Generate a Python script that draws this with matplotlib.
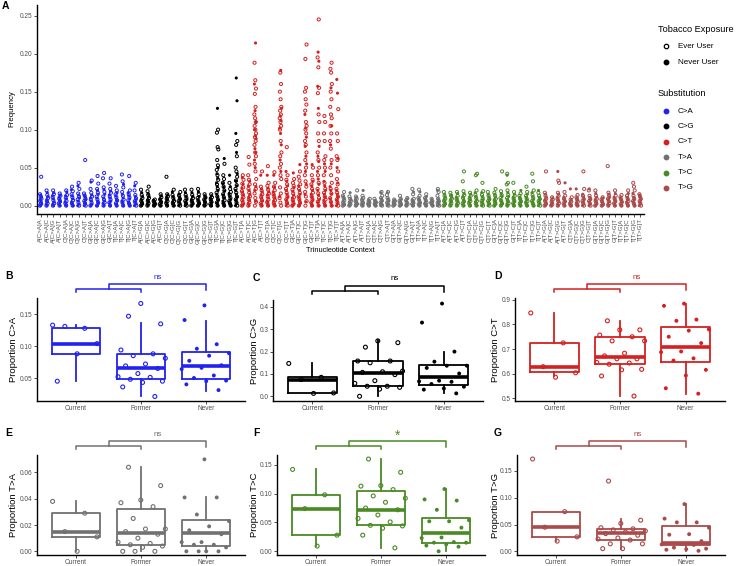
import numpy as np
import matplotlib
matplotlib.use("Agg")
import matplotlib.pyplot as plt
from matplotlib.lines import Line2D
from matplotlib import transforms
from matplotlib.ticker import FormatStrFormatter

plt.rcParams['font.family'] = ['Liberation Sans', 'DejaVu Sans']

W, H = 740, 566
subs = ["C>A", "C>G", "C>T", "T>A", "T>C", "T>G"]
sub_colors = ["#2222EE", "#000000", "#D42020", "#717171", "#4A8A25", "#AA4A4A"]
bases = ["A", "C", "G", "T"]
groups = ["Current", "Former", "Never"]

# panel A: frequency per context, in thousandths, "ever users | never users"
ca_freq = [
    "0 3 6 9 12 15 38 | 0 2 5 8 11 14",
    "0 3 6 10 14 20 | 0 2 5 8 12 17",
    "0 3 7 11 15 20 | 0 2 5 9 13 17",
    "0 3 6 9 13 16 | 0 2 5 8 11 14",
    "0 3 6 10 14 20 | 0 2 5 9 13 18",
    "0 3 7 11 15 19 25 | 0 2 5 9 13 21",
    "0 4 8 12 16 22 30 | 0 2 6 10 14 26",
    "0 3 6 9 13 16 60 | 0 2 5 8 11 14",
    "0 4 8 12 17 22 33 | 0 2 6 10 14 31",
    "0 4 8 12 17 22 29 39 | 0 3 6 10 15 20",
    "0 4 8 12 18 24 36 43 | 0 3 6 10 15 21",
    "0 4 8 12 17 22 29 36 | 0 3 6 10 14 19",
    "0 3 7 11 15 20 26 | 0 2 6 9 13 17",
    "0 4 8 13 18 24 32 41 | 0 3 6 10 15 28",
    "0 3 7 11 15 20 39 | 0 2 5 9 13 17",
    "0 3 6 10 14 20 30 | 0 2 5 8 12 26",
]
cg_freq = [
    "0 3 6 10 14 21 | 0 2 5 8 12 17",
    "0 3 6 10 14 19 25 | 0 2 5 8 12 16",
    "0 2 4 6 8 | 0 1 3 5 7",
    "0 2 5 8 11 15 | 0 1 4 6 9 13",
    "0 3 6 9 12 15 38 | 0 2 5 8 11 14",
    "0 3 6 10 14 21 | 0 2 5 8 12 18",
    "0 3 6 9 13 18 | 0 2 5 8 11 15",
    "0 3 6 10 14 21 | 0 2 5 8 12 17",
    "0 3 6 10 14 21 | 0 2 5 8 12 17",
    "0 3 6 10 15 22 | 0 2 5 8 12 18",
    "0 2 5 8 11 15 | 0 1 4 7 10 13",
    "0 2 5 8 11 15 | 0 1 4 7 10 13",
    "0 4 8 12 17 22 28 34 40 47 53 60 74 77 96 100 | 0 3 7 11 15 20 25 30 36 42 50 128",
    "0 3 7 11 15 20 25 30 35 40 55 | 0 3 6 10 14 19 24 29 62",
    "0 3 6 10 14 18 22 30 | 0 2 5 8 12 16 25 40",
    "0 4 8 12 17 22 27 33 38 45 50 65 80 85 | 0 3 7 11 15 20 26 32 42 70 95 138 168",
]
ct_freq = [
    "0 3 7 11 15 19 24 29 34 40 | 0 2 6 10 14 18 23 28 37",
    "0 4 8 12 17 22 28 34 40 54 64 | 0 3 7 11 15 20 26 32",
    "0 5 10 16 22 28 35 45 55 65 70 80 85 90 95 100 105 110 115 120 130 147 154 165 188 | 6 20 25 50 60 70 75 88 92 100 110 125 160 214",
    "0 3 7 11 15 20 25 45 | 0 2 6 10 14 18 22 40",
    "0 4 8 12 16 21 26 30 52 | 0 3 6 10 14 18 23 40",
    "0 3 7 11 15 20 25 30 44 | 0 2 6 10 14 18 24 40",
    "0 4 10 16 24 35 40 50 55 65 70 85 100 105 110 115 120 125 130 140 150 160 175 | 12 45 60 80 95 102 112 118 128 178",
    "0 4 8 12 17 22 28 34 40 77 | 0 3 7 11 15 20 26 32 45",
    "0 3 7 11 16 21 26 30 35 | 0 2 6 10 14 19 24 43",
    "0 4 8 12 17 22 28 33 38 45 | 0 3 7 11 15 20 26 54",
    "0 6 12 18 25 32 40 50 60 70 80 85 95 100 105 110 125 133 140 150 155 193 212 | 5 15 28 45 55 65 78 90 102 120",
    "0 4 8 12 17 22 28 34 40 50 | 0 3 7 11 15 20 26 32 54",
    "0 5 10 16 22 30 40 50 60 70 85 95 110 120 148 155 182 195 245 | 0 4 8 14 20 28 35 45 58 65 78 128 157 190 202",
    "0 4 8 12 17 22 30 40 50 60 65 85 95 110 118 | 0 3 7 11 15 20 26 32 45 55",
    "0 5 10 16 22 30 40 50 60 75 85 95 105 115 120 130 140 150 160 175 180 188 | 0 4 9 15 20 25 55 80 105 155",
    "0 4 8 12 17 22 28 35 45 60 65 85 95 127 | 0 3 7 11 15 20 30 50 62 148 166",
]
ta_freq = [
    "0 2 4 7 10 13 18 | 0 1 3 6 9 12",
    "0 2 4 6 9 12 | 0 1 3 5 8 17",
    "0 2 4 6 9 12 20 | 0 1 3 5 8 11",
    "0 2 4 7 10 13 | 0 1 3 6 9 20",
    "0 2 4 6 9 | 0 1 3 5 8",
    "0 2 4 6 9 | 0 1 3 5 7",
    "0 2 4 7 10 13 18 | 0 1 3 6 9 17",
    "0 2 4 7 10 14 18 | 0 1 3 6 9 17",
    "0 2 4 6 8 | 0 1 3 5 7",
    "0 2 4 6 9 13 | 0 1 3 5 8",
    "0 2 4 7 10 | 0 1 3 6 9",
    "0 2 4 6 9 15 22 | 0 1 3 5 8 18",
    "0 2 4 7 10 13 21 | 0 1 3 6 9 18",
    "0 2 4 7 10 15 | 0 1 3 6 9 12",
    "0 2 4 6 9 | 0 1 3 5 8",
    "0 2 4 6 9 13 18 22 | 0 1 3 5 8 20",
]
tc_freq = [
    "0 3 6 9 13 18 | 0 2 5 8 11 15",
    "0 3 6 9 13 17 | 0 2 5 8 11 14",
    "0 3 6 9 13 18 | 0 2 5 8 11 16",
    "0 3 6 10 14 19 32 45 | 0 2 5 8 12 16",
    "0 3 6 9 13 17 | 0 2 5 8 11 15",
    "0 3 6 10 14 20 40 42 | 0 2 5 8 12 17",
    "0 3 6 10 14 19 30 | 0 2 5 8 12 17",
    "0 3 6 9 13 18 | 0 2 5 8 11 15",
    "0 3 6 9 13 17 22 | 0 2 5 8 11 15",
    "0 3 6 10 14 19 45 | 0 2 5 8 12 16",
    "0 3 6 10 14 20 28 30 42 | 0 2 5 8 12 17 40",
    "0 3 6 9 13 18 30 | 0 2 5 8 11 15",
    "0 3 6 9 13 16 | 0 2 5 8 11 20",
    "0 3 6 9 13 18 25 | 0 2 5 8 11 15",
    "0 3 6 10 14 20 32 42 | 0 2 5 8 12 17",
    "0 3 6 9 13 17 | 0 2 5 8 11 20",
]
tg_freq = [
    "0 3 6 9 13 17 45 | 0 2 5 8 11 15",
    "0 2 5 8 11 | 0 1 4 7 10",
    "0 3 6 9 13 17 30 33 | 0 2 5 8 11 15 45",
    "0 3 6 9 13 18 | 0 2 5 8 11 30",
    "0 2 5 8 11 | 0 1 4 7 22",
    "0 2 5 8 11 14 | 0 1 4 7 10 22",
    "0 3 6 9 13 22 45 | 0 2 5 8 11 15",
    "0 3 6 9 13 20 | 0 2 5 8 11 22",
    "0 3 6 9 13 20 | 0 2 5 8 11 16",
    "0 2 5 8 11 | 0 1 4 7 10",
    "0 3 6 9 13 17 52 | 0 2 5 8 11 15",
    "0 3 6 9 13 20 | 0 2 5 8 11 16",
    "0 2 5 8 11 14 | 0 1 4 7 10",
    "0 3 6 9 13 20 | 0 2 5 8 11 16",
    "0 3 6 9 13 20 25 30 | 0 2 5 8 11 16",
    "0 3 6 9 12 15 | 0 2 5 8 11 14",
]
freq_all = [ca_freq, cg_freq, ct_freq, ta_freq, tc_freq, tg_freq]

# panels B-G: proportions per patient, plus box stats (whislo, q1, med, q3, whishi)
ca_current = [0.133, 0.128, 0.131, 0.104, 0.088, 0.045]
ca_former = [0.147, 0.135, 0.167, 0.094, 0.088, 0.085, 0.081, 0.072, 0.069, 0.065, 0.057, 0.052, 0.051, 0.048, 0.045, 0.043, 0.036, 0.021]
ca_never = [0.164, 0.141, 0.103, 0.096, 0.089, 0.085, 0.077, 0.070, 0.066, 0.064, 0.054, 0.050, 0.046, 0.045, 0.040, 0.031]
ca_box = [[0.045, 0.088, 0.104, 0.129, 0.133], [0.022, 0.048, 0.065, 0.087, 0.137], [0.030, 0.049, 0.069, 0.091, 0.140]]

cg_current = [0.147, 0.085, 0.075, 0.015, 0.013]
cg_former = [0.22, 0.24, 0.248, 0.158, 0.158, 0.15, 0.113, 0.11, 0.107, 0.097, 0.07, 0.058, 0.045, 0.045, 0.04, 0.032, 0.0]
cg_never = [0.415, 0.33, 0.2, 0.155, 0.137, 0.137, 0.127, 0.102, 0.07, 0.067, 0.065, 0.055, 0.043, 0.035, 0.03, 0.013]
cg_box = [[0.013, 0.015, 0.072, 0.088, 0.147], [0.0, 0.048, 0.105, 0.157, 0.25], [0.013, 0.05, 0.087, 0.142, 0.20]]

ct_current = [0.847, 0.725, 0.628, 0.603, 0.585]
ct_former = [0.815, 0.778, 0.778, 0.757, 0.75, 0.733, 0.733, 0.683, 0.672, 0.66, 0.66, 0.645, 0.643, 0.638, 0.617, 0.615, 0.59, 0.508]
ct_never = [0.885, 0.876, 0.82, 0.815, 0.78, 0.775, 0.75, 0.724, 0.69, 0.687, 0.662, 0.653, 0.615, 0.592, 0.54, 0.518]
ct_box = [[0.59, 0.605, 0.628, 0.725, 0.845], [0.508, 0.64, 0.668, 0.748, 0.815], [0.518, 0.645, 0.707, 0.79, 0.885]]

ta_current = [0.038, 0.029, 0.015, 0.011, 0.0]
ta_former = [0.064, 0.05, 0.039, 0.037, 0.034, 0.025, 0.017, 0.017, 0.015, 0.013, 0.01, 0.007, 0.006, 0.005, 0.004, 0.003, 0.0, 0.0, 0.0]
ta_never = [0.07, 0.041, 0.041, 0.028, 0.023, 0.019, 0.016, 0.013, 0.007, 0.007, 0.005, 0.005, 0.003, 0.0, 0.0, 0.0, 0.0]
ta_box = [[0.0, 0.011, 0.015, 0.029, 0.038], [0.0, 0.005, 0.014, 0.032, 0.064], [0.0, 0.004, 0.014, 0.024, 0.041]]

tc_current = [0.142, 0.098, 0.074, 0.028, 0.009]
tc_former = [0.16, 0.137, 0.114, 0.113, 0.107, 0.096, 0.092, 0.085, 0.075, 0.072, 0.063, 0.057, 0.051, 0.045, 0.044, 0.04, 0.028, 0.006]
tc_never = [0.108, 0.09, 0.088, 0.072, 0.054, 0.052, 0.052, 0.041, 0.024, 0.023, 0.016, 0.015, 0.015, 0.012, 0.01, 0.008, 0.0]
tc_box = [[0.01, 0.028, 0.073, 0.098, 0.142], [0.006, 0.046, 0.072, 0.105, 0.16], [0.0, 0.015, 0.032, 0.058, 0.108]]

tg_current = [0.172, 0.074, 0.045, 0.027, 0.019]
tg_former = [0.131, 0.058, 0.052, 0.044, 0.042, 0.04, 0.038, 0.036, 0.033, 0.03, 0.025, 0.023, 0.021, 0.014, 0.014, 0.005, 0.005]
tg_never = [0.088, 0.061, 0.054, 0.054, 0.044, 0.032, 0.031, 0.019, 0.014, 0.013, 0.012, 0.007, 0.005, 0.004, 0.003, 0.001]
tg_box = [[0.02, 0.027, 0.045, 0.074, 0.074], [0.005, 0.022, 0.034, 0.041, 0.06], [0.0, 0.011, 0.016, 0.048, 0.088]]

sig_labels = ["ns", "ns", "ns", "ns", "*", "ns"]

TXT = "#4D4D4D"


def jit(n, width, off=0.0):
    # fixed spread pattern for the points (no randomness)
    k = np.arange(n)
    return ((k * 0.618034 + off) % 1.0 - 0.5) * 2 * width


def px_axes(l, t, r, b):
    return fig.add_axes([l / W, 1 - b / H, (r - l) / W, (b - t) / H])


def style(ax):
    for s in ["top", "right"]:
        ax.spines[s].set_visible(False)
    for s in ["left", "bottom"]:
        ax.spines[s].set_linewidth(1.0)
    ax.tick_params(length=2.2, width=0.6, colors="#333333", labelcolor=TXT, pad=1.0)


fig = plt.figure(figsize=(W / 100, H / 100), dpi=100)

# ---- panel A ----
axA = px_axes(37, 5, 644, 214)
style(axA)
labels = []
for i, sub in enumerate(subs):
    for j in range(16):
        pos = i * 16 + j + 1
        labels.append(bases[j // 4] + "[" + sub + "]" + bases[j % 4])
        ev_s, nv_s = freq_all[i][j].split("|")
        ev = np.array(ev_s.split(), float) / 1000
        nv = np.array(nv_s.split(), float) / 1000
        axA.scatter(pos + jit(len(ev), 0.15, 0.13 * j), ev, s=5, facecolors="none",
                    edgecolors=sub_colors[i], linewidths=0.7, zorder=3)
        axA.scatter(pos + jit(len(nv), 0.15, 0.37 + 0.11 * j), nv, s=5, c=sub_colors[i],
                    edgecolors="none", zorder=3)
axA.set_xlim(0.4, 96.6)
axA.set_ylim(-0.011, 0.264)
axA.set_yticks([0, 0.05, 0.10, 0.15, 0.20, 0.25])
axA.yaxis.set_major_formatter(FormatStrFormatter("%.2f"))
axA.set_xticks(np.arange(1, 97))
axA.set_xticklabels(labels, rotation=90, fontsize=4.4)
axA.tick_params(axis="y", labelsize=4.7)
fig.text(12 / W, 1 - 109 / H, "Frequency", fontsize=5.6, rotation=90, ha="center", va="center")
fig.text(340 / W, 1 - 251 / H, "Trinucleotide Context", fontsize=5.3, ha="center", va="center")

# legend
fig.text(658 / W, 1 - 29 / H, "Tobacco Exposure", fontsize=6.6, va="center")
fig.add_artist(Line2D([665.7 / W], [1 - 46 / H], marker="o", ms=3.2, mfc="none", mec="black",
                      mew=0.9, ls="", transform=fig.transFigure))
fig.add_artist(Line2D([665.7 / W], [1 - 62 / H], marker="o", ms=3.2, mfc="black", mec="black",
                      ls="", transform=fig.transFigure))
fig.text(678 / W, 1 - 46 / H, "Ever User", fontsize=5.8, va="center")
fig.text(678 / W, 1 - 62 / H, "Never User", fontsize=5.8, va="center")
fig.text(658 / W, 1 - 94 / H, "Substitution", fontsize=6.6, va="center")
for i, sub in enumerate(subs):
    yy = 1 - (111 + i * 15.4) / H
    fig.add_artist(Line2D([665.7 / W], [yy], marker="o", ms=3.2, mfc=sub_colors[i], mec=sub_colors[i],
                          ls="", transform=fig.transFigure))
    fig.text(678 / W, yy, sub, fontsize=5.8, va="center")

# ---- panels B-G ----
panels = [
    ("B", (37, 298, 245, 401), ca_current, ca_former, ca_never, ca_box, (0.0139, 0.1756), [0.05, 0.10, 0.15], "%.2f"),
    ("C", (273, 300, 483, 401), cg_current, cg_former, cg_never, cg_box, (-0.021, 0.431), [0.0, 0.1, 0.2, 0.3, 0.4], "%.1f"),
    ("D", (515, 298, 725, 401), ct_current, ct_former, ct_never, ct_box, (0.488, 0.908), [0.5, 0.6, 0.7, 0.8, 0.9], "%.1f"),
    ("E", (37, 455, 245, 555), ta_current, ta_former, ta_never, ta_box, (-0.0028, 0.0733), [0.0, 0.02, 0.04, 0.06], "%.2f"),
    ("F", (277, 455, 485, 555), tc_current, tc_former, tc_never, tc_box, (-0.0064, 0.167), [0.0, 0.05, 0.10, 0.15], "%.2f"),
    ("G", (517, 455, 725, 555), tg_current, tg_former, tg_never, tg_box, (-0.0068, 0.1795), [0.0, 0.05, 0.10, 0.15], "%.2f"),
]
letter_x = {"B": 5, "C": 253, "D": 494, "E": 5, "F": 253, "G": 494}
ylab_x = {"B": 13, "C": 255, "D": 495, "E": 13, "F": 255, "G": 495}

for k, (let, (l, t, r, b), cur, form, nev, box, ylim, ticks, fmt) in enumerate(panels):
    c = sub_colors[k]
    ax = px_axes(l, t, r, b)
    style(ax)
    stats = [dict(whislo=s[0], q1=s[1], med=s[2], q3=s[3], whishi=s[4]) for s in box]
    ax.bxp(stats, positions=[1, 2, 3], widths=0.75, showfliers=False, showcaps=False,
           boxprops=dict(color=c, lw=1.3), whiskerprops=dict(color=c, lw=1.3),
           medianprops=dict(color=c, lw=2.6))
    for g, vals in enumerate([cur, form, nev]):
        v = np.array(vals)
        x = g + 1 + jit(len(v), 0.4, 0.21 * g + 0.05)
        if g < 2:
            ax.scatter(x, v, s=8, facecolors="none", edgecolors=c, linewidths=0.8, zorder=4)
        else:
            ax.scatter(x, v, s=8, c=c, edgecolors="none", zorder=4)
    ax.set_xlim(0.4, 3.6)
    ax.set_ylim(*ylim)
    ax.set_yticks(ticks)
    ax.yaxis.set_major_formatter(FormatStrFormatter(fmt))
    ax.set_xticks([1, 2, 3])
    ax.set_xticklabels(groups)
    ax.tick_params(labelsize=4.7)
    fig.text(ylab_x[let] / W, 1 - (t + b) / 2 / H, "Proportion " + subs[k], fontsize=6.8,
             rotation=90, ha="center", va="center")
    # significance bracket above the axes (heights in pixels above the top)
    tr = transforms.blended_transform_factory(ax.transData, ax.transAxes)
    h = b - t
    for xs, ys in [([1, 1, 2, 2], [6.3, 9, 9, 6.3]), ([1.5, 1.5, 3, 3], [9, 14, 14, 8])]:
        ax.add_line(Line2D(xs, [1 + dy / h for dy in ys], color=c, lw=1.1, clip_on=False, transform=tr))
    star = sig_labels[k] == "*"
    ax.text(2.25, 1 + (19 if star else 21) / h, sig_labels[k], transform=tr, color=c, ha="center",
            va="center", fontsize=10 if star else 5.8, clip_on=False)
    fig.text(letter_x[let] / W, 1 - (t - 22) / H, let, fontsize=7.5, fontweight="bold", va="center")

fig.text(2 / W, 1 - 6 / H, "A", fontsize=7.5, fontweight="bold", va="center")

fig.savefig("out.png", dpi=100)
